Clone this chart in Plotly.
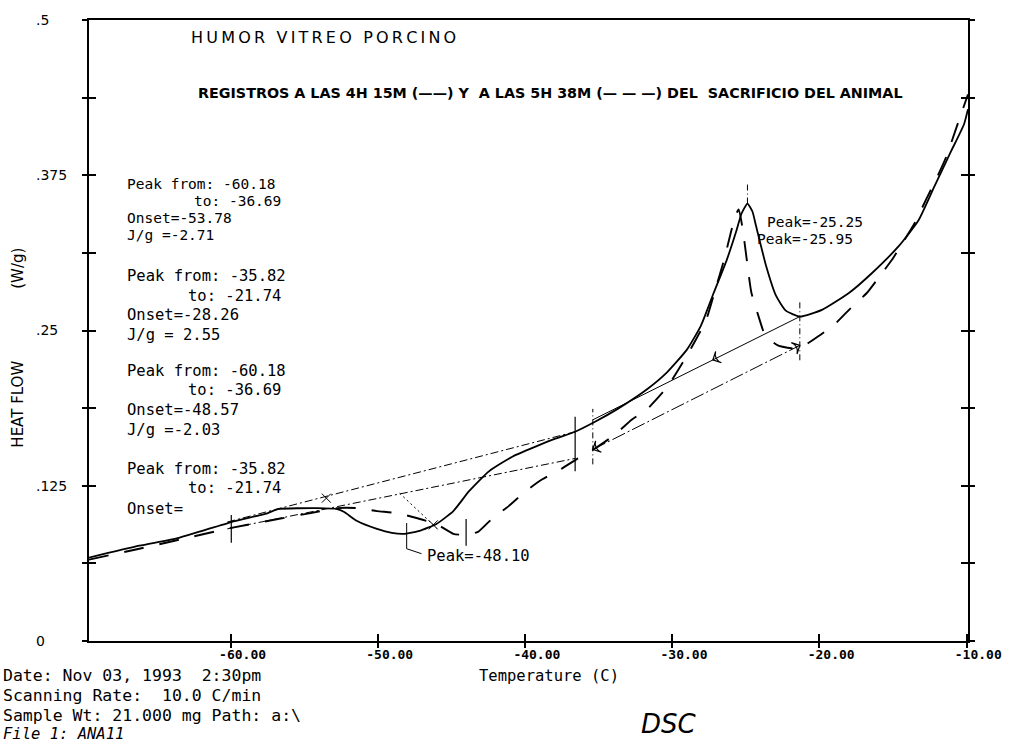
import plotly.graph_objects as go

# ---------------- data ----------------
# DSC trace recorded 4h15m after sacrifice (solid line)
solid_temp = [-69.64, -66.22, -63.53, -59.97, -57.48, -56.80, -54.11, -52.77, -52.29, -51.42,
              -50.07, -49.06, -48.25, -47.17, -46.03, -44.88, -43.81, -42.46, -40.84, -39.29,
              -37.95, -36.60, -35.25, -33.71, -31.69, -30.34, -28.99, -28.05, -27.18, -26.30,
              -25.63, -25.29, -24.89, -24.55, -24.30, -23.62, -22.95, -22.28, -21.33, -19.79,
              -17.97, -16.42, -14.61, -13.26, -12.19, -11.04, -10.17, -9.90]
solid_hf = [0.0671, 0.0767, 0.0831, 0.0958, 0.1030, 0.1062, 0.1070, 0.1062, 0.1038, 0.0966,
            0.0903, 0.0871, 0.0863, 0.0887, 0.0942, 0.1046, 0.1206, 0.1366, 0.1486, 0.1565,
            0.1629, 0.1685, 0.1765, 0.1869, 0.2029, 0.2165, 0.2348, 0.2540, 0.2804, 0.3067,
            0.3307, 0.3442, 0.3522, 0.3458, 0.3339, 0.3019, 0.2780, 0.2660, 0.2612, 0.2668,
            0.2804, 0.2963, 0.3179, 0.3387, 0.3658, 0.3946, 0.4161, 0.4281]

# DSC trace recorded 5h38m after sacrifice (dashed line)
dashed_temp = [-69.64, -66.22, -63.53, -59.97, -56.80, -54.58, -52.77, -51.42, -50.07, -48.72,
               -47.38, -46.03, -44.88, -44.01, -43.20, -42.20, -41.12, -39.97, -38.83, -37.48,
               -36.41, -35.25, -33.90, -32.76, -31.69, -30.34, -28.99, -28.39, -27.71, -27.04,
               -26.50, -26.03, -25.76, -25.49, -25.22, -24.95, -24.62, -24.15, -23.68, -22.82,
               -21.81, -20.80, -19.99, -18.98, -17.77, -16.76, -15.89, -15.08, -14.27, -13.53,
               -12.72, -12.05, -11.38, -10.70, -10.23, -9.90]
dashed_hf = [0.0655, 0.0743, 0.0815, 0.0911, 0.0982, 0.1030, 0.1070, 0.1070, 0.1046, 0.1030,
             0.0990, 0.0942, 0.0863, 0.0855, 0.0879, 0.0990, 0.1086, 0.1206, 0.1302, 0.1390,
             0.1470, 0.1550, 0.1661, 0.1781, 0.1869, 0.2045, 0.2300, 0.2428, 0.2580, 0.2843,
             0.3059, 0.3283, 0.3403, 0.3474, 0.3323, 0.3083, 0.2804, 0.2620, 0.2460, 0.2380,
             0.2356, 0.2396, 0.2460, 0.2548, 0.2692, 0.2804, 0.2939, 0.3067, 0.3219, 0.3363,
             0.3562, 0.3722, 0.3898, 0.4129, 0.4289, 0.4401]

# integration baselines (start/end temperature, start/end heat flow)
base_peak1_temp = [-60.24, -36.60]
base_peak1_solid_hf = [0.0958, 0.1685]
base_peak1_dashed_hf = [0.0903, 0.1470]
base_peak2_temp = [-35.40, -21.33]
base_peak2_solid_hf = [0.1781, 0.2612]
base_peak2_dashed_hf = [0.1542, 0.2380]

# limit / peak marker segments: (temperature, low hf, high hf)
limit_solid = [(-36.60, 0.1366, 0.1805), (-59.97, 0.0791, 0.1014), (-44.01, 0.0767, 0.0982)]
limit_dashdot = [(-35.40, 0.1422, 0.1869), (-21.33, 0.2260, 0.2740), (-24.89, 0.3522, 0.3680)]
peak48_leader_temp = [-48.05, -48.05, -47.04]
peak48_leader_hf = [0.0950, 0.0743, 0.0703]
onset_line_temp = [-48.53, -46.03]
onset_line_hf = [0.1190, 0.0911]
onset_x_temp = [-53.51, -46.24]
onset_x_hf = [0.1150, 0.0935]

x_tick_vals = [-60, -50, -40, -30, -20, -10]
x_tick_text = ["-60.00", "-50.00", "-40.00", "-30.00", "-20.00", "-10.00"]
y_tick_vals = [0, 0.0625, 0.125, 0.1875, 0.25, 0.3125, 0.375, 0.4375, 0.5]
y_tick_text = ["0", "", ".125", "", ".25", "", ".375", "", ".5"]

info_lines = ["Date: Nov 03, 1993  2:30pm", "Scanning Rate:  10.0 C/min",
              "Sample Wt: 21.000 mg Path: a:\\"]
file_line = "File 1: ANA11"
peak_blocks = [
    ["Peak from: -60.18", "to: -36.69", "Onset=-53.78", "J/g =-2.71"],
    ["Peak from: -35.82", "to: -21.74", "Onset=-28.26", "J/g = 2.55"],
    ["Peak from: -60.18", "to: -36.69", "Onset=-48.57", "J/g =-2.03"],
    ["Peak from: -35.82", "to: -21.74", "Onset="],
]

# ---------------- figure ----------------
X_RANGE = [-69.64, -9.90]
Y_RANGE = [0, 0.5]
L, R, T, B = 89, 37, 15, 101
W, H = 1014, 742
PW, PH = W - L - R, H - T - B


def paper(px, py):
    return (px - L) / PW, (H - B - py) / PH


fig = go.Figure()

thin = dict(color="black", width=1)

# baselines
fig.add_trace(go.Scatter(x=base_peak1_temp, y=base_peak1_solid_hf, mode="lines",
                         line=dict(color="black", width=1, dash="8px,3px,2px,3px")))
fig.add_trace(go.Scatter(x=base_peak1_temp, y=base_peak1_dashed_hf, mode="lines",
                         line=dict(color="black", width=1, dash="8px,3px,2px,3px")))
fig.add_trace(go.Scatter(x=base_peak2_temp, y=base_peak2_solid_hf, mode="lines", line=thin))
fig.add_trace(go.Scatter(x=base_peak2_temp, y=base_peak2_dashed_hf, mode="lines",
                         line=dict(color="black", width=1, dash="14px,3px,2px,3px")))

# arrow heads on the second-peak baselines
fig.add_trace(go.Scatter(
    x=[base_peak2_temp[0], base_peak2_temp[1], (base_peak2_temp[0] * 0.42 + base_peak2_temp[1] * 0.58)],
    y=[base_peak2_dashed_hf[0], base_peak2_dashed_hf[1],
       (base_peak2_solid_hf[0] * 0.42 + base_peak2_solid_hf[1] * 0.58)],
    mode="markers",
    marker=dict(symbol="arrow-wide-open", size=9, angle=[243, 63, 243], color="black",
                line=dict(color="black", width=1.2))))

# vertical limit markers
vx, vy = [], []
for t, lo, hi in limit_solid:
    vx += [t, t, None]
    vy += [lo, hi, None]
fig.add_trace(go.Scatter(x=vx, y=vy, mode="lines", line=dict(color="black", width=1.2)))
vx, vy = [], []
for t, lo, hi in limit_dashdot:
    vx += [t, t, None]
    vy += [lo, hi, None]
fig.add_trace(go.Scatter(x=vx, y=vy, mode="lines",
                         line=dict(color="black", width=1, dash="6px,3px,1px,3px")))

fig.add_trace(go.Scatter(x=peak48_leader_temp, y=peak48_leader_hf, mode="lines", line=thin))
fig.add_trace(go.Scatter(x=onset_line_temp, y=onset_line_hf, mode="lines",
                         line=dict(color="black", width=1, dash="2px,3px")))
fig.add_trace(go.Scatter(x=onset_x_temp, y=onset_x_hf, mode="markers",
                         marker=dict(symbol="x-thin-open", size=9, color="black",
                                     line=dict(color="black", width=1))))

# the two DSC curves
fig.add_trace(go.Scatter(x=solid_temp, y=solid_hf, mode="lines",
                         line=dict(color="black", width=1.8, shape="spline", smoothing=0.5)))
fig.add_trace(go.Scatter(x=dashed_temp, y=dashed_hf, mode="lines", xaxis="x2", yaxis="y2",
                         line=dict(color="black", width=1.9, dash="20px,16px",
                                   shape="spline", smoothing=0.5)))

NB = "\u00a0"
FS = "\u2007"
y_text_padded = []
for t in y_tick_text:
    if t == "":
        y_text_padded.append("")
    elif t == "0":
        y_text_padded.append("0" + "\u2008" + FS + FS)
    else:
        y_text_padded.append(t + FS * (4 - len(t)))

axis_font = dict(family="DejaVu Sans Mono", size=13, color="black", weight="bold")

fig.update_layout(
    width=W, height=H, autosize=False,
    margin=dict(l=L, r=R, t=T, b=B, pad=0),
    paper_bgcolor="white", plot_bgcolor="white", showlegend=False,
    xaxis=dict(range=X_RANGE, showgrid=False, zeroline=False, showline=True, linecolor="black",
               linewidth=2, mirror=True, ticks="outside", ticklen=5, tickwidth=1.5,
               tickcolor="black", tickmode="array", tickvals=x_tick_vals,
               ticktext=[NB * 3 + t for t in x_tick_text], tickfont=axis_font,
               ticklabelstandoff=-5),
    xaxis2=dict(range=X_RANGE, overlaying="x", anchor="y2", side="bottom", showgrid=False,
                zeroline=False, showline=False, ticks="inside", ticklen=7, tickwidth=1.5,
                tickcolor="black", tickmode="array", tickvals=x_tick_vals,
                showticklabels=False),
    yaxis=dict(range=Y_RANGE, showgrid=False, zeroline=False, showline=True, linecolor="black",
               linewidth=2, mirror="ticks", ticks="outside", ticklen=5, tickwidth=1.5,
               tickcolor="black", tickmode="array", tickvals=y_tick_vals,
               ticktext=y_text_padded, ticklabelstandoff=12,
               tickfont=dict(family="DejaVu Sans", size=14, color="black")),
    yaxis2=dict(range=Y_RANGE, overlaying="y", anchor="x2", side="left", showgrid=False,
                zeroline=False, showline=False, mirror="ticks", ticks="inside", ticklen=7,
                tickwidth=1.5, tickcolor="black", tickmode="array", tickvals=y_tick_vals,
                showticklabels=False),
)

ann = []


def add_text(text, px, py, xanchor="left", font=None, angle=0):
    xp, yp = paper(px, py)
    ann.append(dict(text=text, x=xp, y=yp, xref="paper", yref="paper", xanchor=xanchor,
                    yanchor="middle", showarrow=False, textangle=angle,
                    font=font or dict(family="DejaVu Sans Mono", size=15.5, color="black")))


mono = dict(family="DejaVu Sans Mono", size=15.5, color="black")
mono_small = dict(family="DejaVu Sans Mono", size=14.5, color="black")

# title and subtitle
title = "HUMOR VITREO PORCINO"
spaced_title = "\u2009".join(list(title))
add_text(spaced_title, 190, 33, font=dict(family="DejaVu Sans", size=16, color="black"))
add_text("REGISTROS A LAS 4H 15M (\u2014\u2014) Y\u00a0 A LAS 5H 38M (\u2014 \u2014 \u2014) DEL\u00a0 SACRIFICIO DEL ANIMAL",
         197, 89, font=dict(family="DejaVu Sans", size=14.3, color="black", weight="bold"))

# peak result blocks
block_rows = [[180.5, 197.5, 214.5, 231.5], [273.3, 293.3, 312.8, 332.5],
              [368.5, 387.5, 408.0, 428.0], [467.5, 487.0, 508.0]]
for b, (lines, rows) in enumerate(zip(peak_blocks, block_rows)):
    f = mono_small if b == 0 else mono
    for i, (txt, py) in enumerate(zip(lines, rows)):
        if i == 1:
            add_text(txt, 285, py, xanchor="right", font=f)
        else:
            add_text(txt, 125, py, font=f)

add_text("Peak=-25.25", 772, 218.5, font=mono_small)
add_text("Peak=-25.95", 762, 235.5, font=mono_small)
add_text("Peak=-48.10", 428, 555, font=mono)

# axis titles
add_text("HEAT FLOW", 17, 402, xanchor="center",
         font=dict(family="DejaVu Sans", size=15, color="black"), angle=-90)
add_text("(W/g)", 17, 265, xanchor="center",
         font=dict(family="DejaVu Sans", size=15, color="black"), angle=-90)
add_text("Temperature (C)", 554, 676, xanchor="center", font=mono)

# info lines
info_font = dict(family="DejaVu Sans Mono", size=16.5, color="black")
for i, line in enumerate(info_lines):
    add_text(line, 0, 676 + 20 * i, font=info_font)
add_text(file_line, 0, 735, font=dict(family="DejaVu Sans Mono", size=15.5, color="black",
                                       style="italic"))
add_text("DSC", 675, 725, xanchor="center",
         font=dict(family="DejaVu Sans", size=26, color="black", style="italic"))

fig.update_layout(annotations=ann)
fig.write_html("out.html")
